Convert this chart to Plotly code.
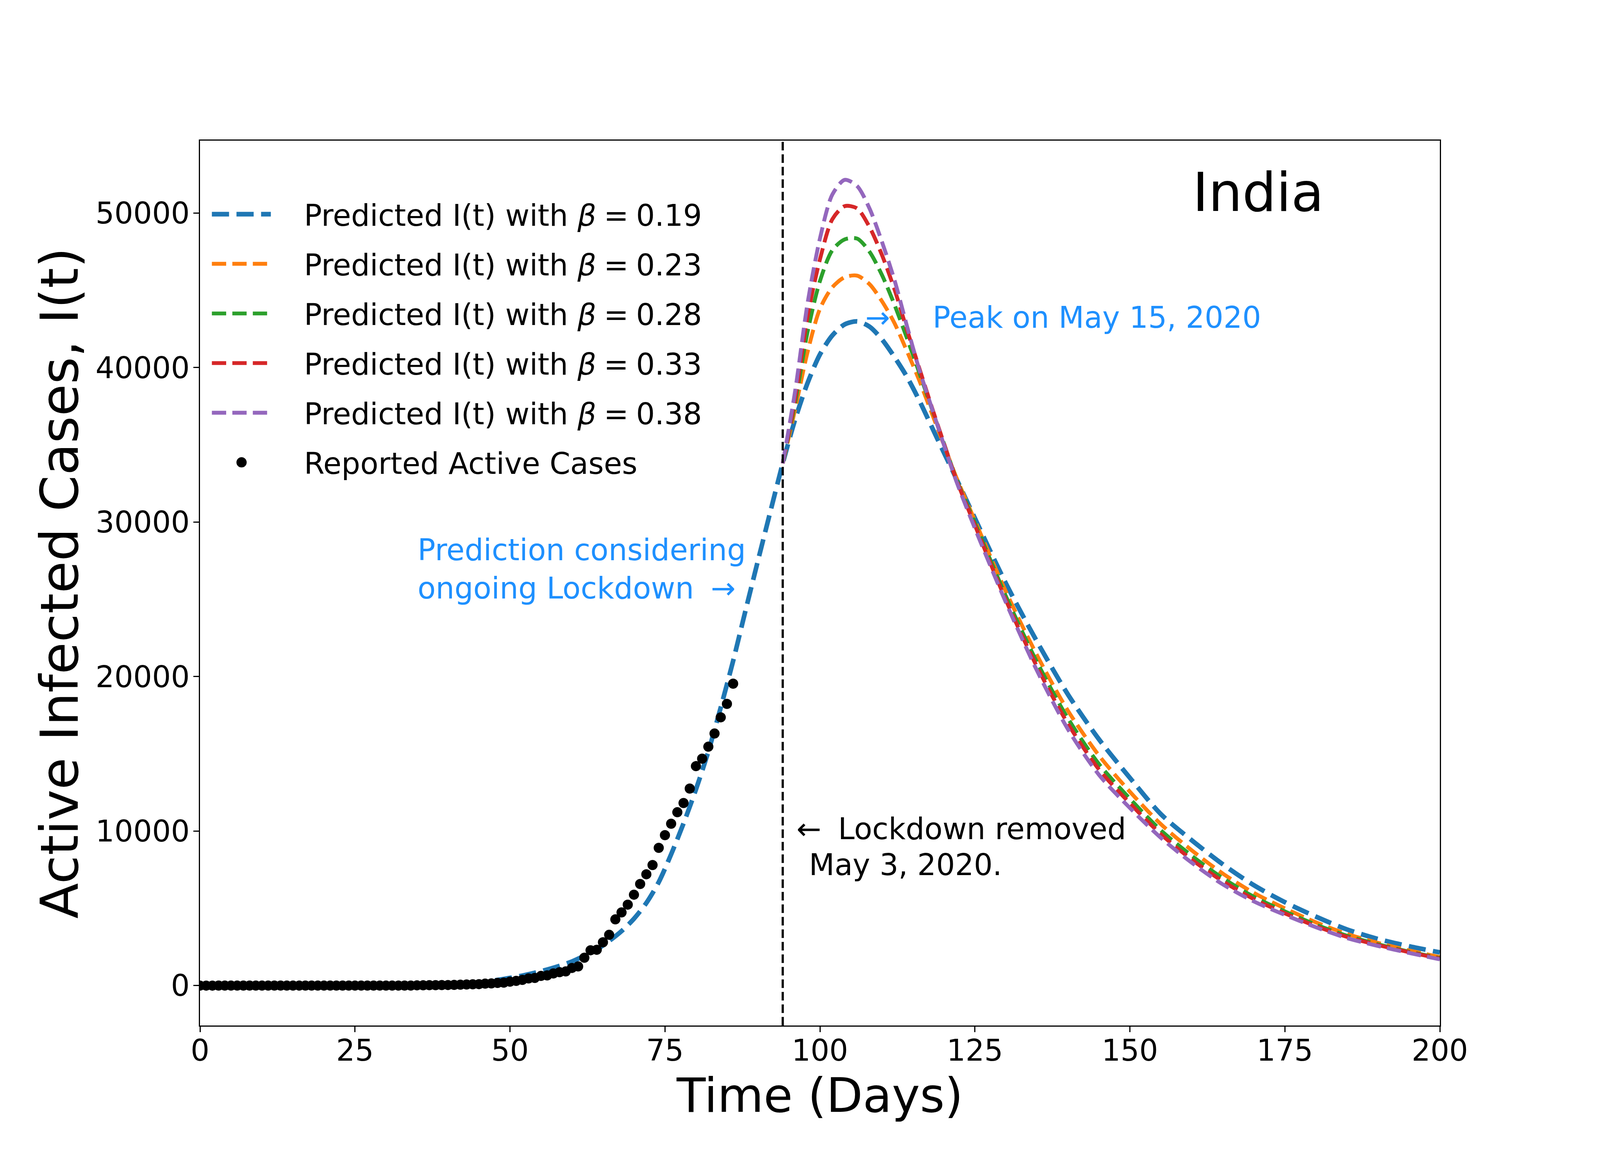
import plotly.graph_objects as go

# ---- data ----
reported_days = list(range(0, 87))
reported_cases = [1, 1, 2, 3, 3, 3, 3, 3, 3, 3, 3, 3, 3, 3, 3, 3, 3, 3, 3, 3,
                  3, 3, 3, 3, 3, 3, 3, 3, 3, 3, 3, 3, 3, 3, 5, 20, 25, 28, 30, 35,
                  40, 50, 60, 72, 85, 97, 129, 145, 177, 194, 258, 306, 371, 468, 500, 629, 661, 790, 871, 919,
                  1145, 1242, 1806, 2290, 2322, 2806, 3290, 4289, 4741, 5241, 5886, 6579, 7208, 7805, 8917, 9740, 10481, 11223, 11820, 12755,
                  14206, 14690, 15464, 16318, 17366, 18237, 19544]

rise_days = [0, 10, 20, 30, 35, 40, 45, 48, 50, 52, 55, 58, 60, 62, 64, 66, 68, 70, 72, 74, 76, 78, 80, 82, 84, 86, 88, 90, 92]
rise_blue = [1, 3, 5, 10, 20, 50, 200, 370, 500, 650, 930, 1280, 1560, 1930, 2340, 2890, 3530, 4330, 5350, 6700, 8500, 10500, 12700, 15150, 18000, 21020, 24280, 27500, 30670]

late_days = [94, 96, 98, 100, 102, 104, 106, 108, 110, 112, 114, 116, 118, 120, 122, 125, 130, 135, 140, 145, 150, 155, 160, 165, 170, 175, 180, 185, 190, 195, 200]
late_blue = [33800, 36640, 39000, 40850, 42080, 42800, 42990, 42650, 41830, 40700, 39430, 37900, 36200, 34500, 32820, 30250, 26030, 22280, 18850, 15950, 13450, 11100, 9400, 7850, 6500, 5400, 4470, 3640, 3020, 2550, 2150]
late_orange = [33800, 37300, 41000, 43800, 45200, 45850, 45950, 45400, 44300, 42900, 41100, 39200, 37100, 35000, 32900, 30100, 25500, 21400, 17800, 14900, 12550, 10450, 8750, 7250, 6000, 5000, 4100, 3350, 2770, 2280, 1850]
late_green = [33800, 37700, 42300, 45600, 47600, 48300, 48350, 47500, 46000, 44100, 41950, 39700, 37400, 35100, 32800, 29950, 25200, 20950, 17300, 14350, 12100, 10050, 8400, 6950, 5750, 4800, 3950, 3230, 2680, 2200, 1780]
late_red = [33800, 38000, 43300, 47000, 49600, 50450, 50300, 49100, 47300, 45100, 42500, 40000, 37500, 35100, 32750, 29800, 24950, 20650, 16950, 14000, 11800, 9800, 8150, 6750, 5600, 4680, 3850, 3160, 2630, 2170, 1750]
late_purple = [33800, 38480, 44150, 48350, 51200, 52150, 51750, 50300, 48150, 45700, 42750, 39900, 37450, 35000, 32650, 29600, 24800, 20400, 16600, 13650, 11500, 9570, 7950, 6550, 5450, 4580, 3780, 3080, 2570, 2120, 1700]

beta_labels = ["0.19", "0.23", "0.28", "0.33", "0.38"]
colors = ["#1f77b4", "#ff7f0e", "#2ca02c", "#d62728", "#9467bd"]
x_ticks = [0, 25, 50, 75, 100, 125, 150, 175, 200]
y_ticks = [0, 10000, 20000, 30000, 40000, 50000]

FONT = "DejaVu Sans"
BLUE = "#1E90FF"
FS = 75.8          # ticks, legend, notes
FS_TITLE = 121.4   # x axis title
FS_YTITLE = 133.3  # y axis title
FS_TAG = 137.0     # "India"
NB = "\u00a0"
GAP = NB * 3 + "\u200a"

fig = go.Figure()
series = [(rise_days + late_days, rise_blue + late_blue, 11.9),
          (late_days, late_orange, 9.9),
          (late_days, late_green, 9.9),
          (late_days, late_red, 9.9),
          (late_days, late_purple, 9.9)]
for i, (xs, ys, w) in enumerate(series):
    fig.add_trace(go.Scatter(
        x=xs, y=ys, mode="lines", legendgroup=f"g{i}",
        name=f"{GAP}Predicted I(t) with <i>β</i>\u2005=\u2005{beta_labels[i]}",
        line=dict(color=colors[i], width=w, shape="spline", smoothing=0.8,
                  dash=f"{3.7 * w:.1f}px,{1.6 * w:.1f}px"),
    ))
fig.add_trace(go.Scatter(
    x=reported_days, y=reported_cases, mode="markers", legendgroup="g5",
    name=f"{GAP}Reported Active Cases",
    marker=dict(color="black", size=21, line=dict(width=5, color="black")),
))

fig.add_shape(type="line", x0=94, x1=94, yref="paper", y0=0, y1=1,
              line=dict(color="black", width=5.7, dash="22px,10px"))


def note(x, y, text, color="black", size=FS):
    fig.add_annotation(x=x, y=y, text=text, showarrow=False, xanchor="left", yanchor="middle",
                       font=dict(family=FONT, size=size, color=color))


note(160, 51330, "India", size=FS_TAG)
note(107.2, 43230, f"→{NB * 4}\u2006Peak on May 15, 2020", BLUE)
note(35, 28200, "Prediction considering", BLUE)
note(35, 25720, f"ongoing Lockdown{NB}\u2005→", BLUE)
note(96.1, 10130, f"←{NB}\u2005Lockdown removed")
note(98.1, 7800, "May 3, 2020.")

fig.update_layout(
    width=4096, height=3000, autosize=False,
    margin=dict(l=512, r=410, t=360, b=375, pad=0),
    paper_bgcolor="white", plot_bgcolor="white",
    font=dict(family=FONT, size=FS, color="black"),
    showlegend=True,
    legend=dict(x=0.008, y=0.9415, xanchor="left", yanchor="top", bgcolor="rgba(0,0,0,0)",
                borderwidth=0, itemwidth=151, tracegroupgap=25.5, traceorder="grouped",
                font=dict(family=FONT, size=FS, color="black")),
    xaxis=dict(range=[0, 200], tickvals=x_ticks, showgrid=False, zeroline=False,
               showline=True, mirror=True, linecolor="black", linewidth=3.2,
               ticks="outside", ticklen=14, tickwidth=3.2, tickcolor="black",
               ticklabelstandoff=-18,
               tickfont=dict(family=FONT, size=FS),
               title=dict(text="Time (Days)", font=dict(family=FONT, size=FS_TITLE), standoff=0)),
    yaxis=dict(range=[-2580, 54690], tickvals=y_ticks, tickformat="d", showgrid=False, zeroline=False,
               showline=True, mirror=True, linecolor="black", linewidth=3.2,
               ticks="outside", ticklen=14, tickwidth=3.2, tickcolor="black",
               ticklabelstandoff=-6,
               tickfont=dict(family=FONT, size=FS),
               title=dict(text="Active Infected Cases, I(t)", font=dict(family=FONT, size=FS_YTITLE), standoff=0)),
)

# Page margin off; legend keys restored to full size (plotly caps them in the legend).
POST = """
document.body.style.margin='0';
var gd=document.querySelector('.js-plotly-plot');
function fixLegend(){
  var l=gd.querySelectorAll('.legendlines path');
  if(l.length){l[0].style.strokeWidth='11.9px';}
  gd.querySelectorAll('.legendpoints path.scatterpts').forEach(function(p){
    p.setAttribute('transform','translate(81,0) scale(1.25)');
  });
}
fixLegend();
gd.on('plotly_afterplot',fixLegend);
"""
fig.write_html("out.html", post_script=POST, config={"displayModeBar": False})
